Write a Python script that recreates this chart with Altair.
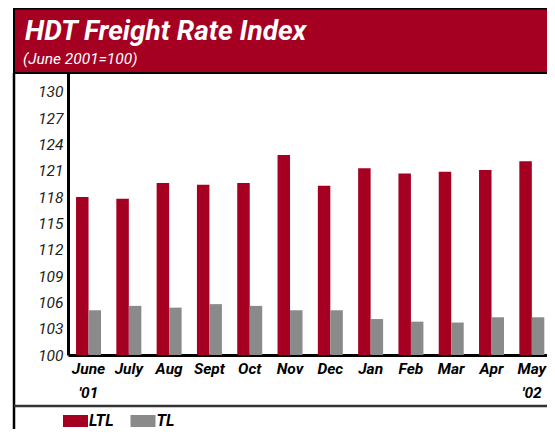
import altair as alt
import pandas as pd

# ---- data ----
months = ["June '01", "July", "Aug", "Sept", "Oct", "Nov", "Dec",
          "Jan", "Feb", "Mar", "Apr", "May '02"]
ltl = [118.0, 117.8, 119.6, 119.4, 119.6, 122.8, 119.3,
       121.3, 120.7, 120.9, 121.1, 122.1]
tl = [105.1, 105.6, 105.4, 105.8, 105.6, 105.1, 105.1,
      104.1, 103.8, 103.7, 104.3, 104.3]
series_names = ["LTL", "TL"]
series_colors = ["#A50021", "#8A8A8A"]
y_ticks = [100, 103, 106, 109, 112, 115, 118, 121, 124, 127, 130]
title_text = "HDT Freight Rate Index"
subtitle_text = "(June 2001=100)"

rows = []
for m, a, b in zip(months, ltl, tl):
    rows.append({"month": m, "series": "LTL", "value": a})
    rows.append({"month": m, "series": "TL", "value": b})
df = pd.DataFrame(rows)

W, H = 479, 282
FONT = "Roboto"
one = alt.Data(values=[{"k": 1}])

header = alt.Chart(one).mark_rect(
    fill="#A50021", stroke="black", strokeWidth=2
).encode(x=alt.value(-54), x2=alt.value(W + 10), y=alt.value(-64.5), y2=alt.value(0))

frame = alt.Chart(one).mark_rule(color="black", strokeWidth=2.5).encode(
    x=alt.value(-54), y=alt.value(0), y2=alt.value(H + 100)
)

separator = alt.Chart(one).mark_rule(color="#333333", strokeWidth=2.5).encode(
    x=alt.value(-54), x2=alt.value(W + 10), y=alt.value(333)
)

title = alt.Chart(one).mark_text(
    align="left", baseline="alphabetic", font=FONT, fontSize=28,
    fontWeight="bold", fontStyle="italic", color="white"
).encode(x=alt.value(-43), y=alt.value(-33), text=alt.value(title_text))

subtitle = alt.Chart(one).mark_text(
    align="left", baseline="alphabetic", font=FONT, fontSize=15.5,
    fontStyle="italic", color="white"
).encode(x=alt.value(-45), y=alt.value(-9), text=alt.value(subtitle_text))

bars = alt.Chart(df).mark_bar().encode(
    x=alt.X(
        "month:N", sort=months,
        scale=alt.Scale(paddingInner=0.38, paddingOuter=0.133, align=0.75),
        axis=alt.Axis(
            title=None, labelAngle=0, ticks=False, grid=False,
            labelExpr="split(datum.label, ' ')",
            labelFont=FONT, labelFontSize=15.5, labelFontWeight="bold",
            labelFontStyle="italic", labelColor="black", labelLineHeight=24,
            labelPadding=6, domainColor="black", domainWidth=3,
        ),
    ),
    xOffset=alt.XOffset("series:N", sort=series_names,
                        scale=alt.Scale(paddingInner=0, paddingOuter=0)),
    y=alt.Y(
        "value:Q",
        scale=alt.Scale(domain=[100, 132.15], nice=False, zero=False, clamp=True),
        axis=alt.Axis(
            title=None, values=y_ticks, ticks=False, grid=False,
            labelFont=FONT, labelFontSize=15.5,
            labelFontStyle="italic", labelColor="#222222", labelPadding=5,
            domainColor="black", domainWidth=3,
        ),
    ),
    color=alt.Color(
        "series:N",
        scale=alt.Scale(domain=series_names, range=series_colors),
        legend=alt.Legend(
            title=None, orient="none", legendX=-0.5, legendY=340,
            direction="horizontal",
            symbolType="M-1.5625,-0.75H1.5625V0.75H-1.5625Z",
            symbolSize=256, symbolStrokeWidth=0, symbolOpacity=1,
            labelFont=FONT, labelFontSize=16, labelFontWeight="bold",
            labelFontStyle="italic", labelColor="black", labelOffset=5.5,
            columnPadding=15.5, padding=0,
        ),
    ),
)

chart = alt.layer(header, frame, separator, bars, title, subtitle).properties(
    width=W, height=H,
    padding={"left": 60, "top": 65, "right": 0, "bottom": 74},
    autosize=alt.AutoSizeParams(type="none"),
).configure_view(stroke=None)

chart.save("out.html", embed_options={"renderer": "svg", "actions": False})
